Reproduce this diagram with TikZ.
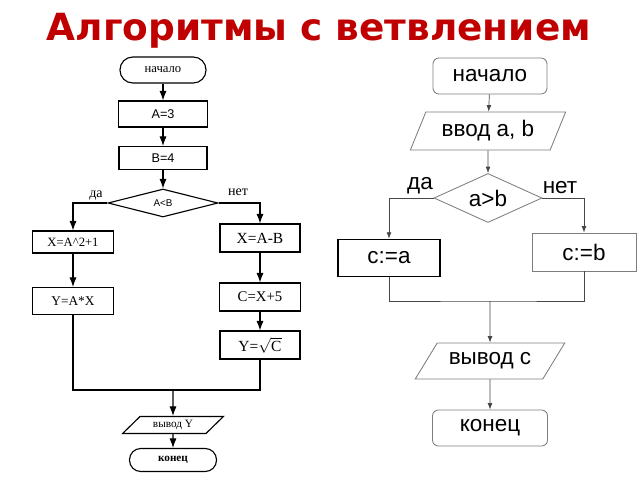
\documentclass[tikz,border=0pt]{standalone}
\usepackage{fontspec}
\setmainfont{Liberation Sans}
\newfontfamily\scanfont{Liberation Serif}
\newfontfamily\headfont{DejaVu Sans}
\usetikzlibrary{shapes.geometric,arrows.meta}
\definecolor{titlered}{RGB}{192,0,0}
\definecolor{boxgray}{RGB}{125,125,125}
\definecolor{wiregray}{RGB}{70,70,70}
\tikzset{
	lbox/.style={draw=black, line width=0.8pt, inner sep=0pt, font=\scanfont\fontsize{10}{12}\selectfont},
	lterm/.style={lbox, rounded corners=3.2mm},
	lwire/.style={line width=0.8pt, -{Latex[length=2.4mm,width=1.8mm]}},
	rbox/.style={draw=boxgray, line width=0.6pt, inner sep=0pt, rounded corners=0.6mm, font=\fontsize{16}{18}\selectfont},
	rwire/.style={draw=wiregray, line width=0.5pt, -{Latex[length=1.6mm,width=1.2mm]}},
}

\begin{document}
\begin{tikzpicture}[x=0.025cm, y=-0.025cm]
			%%%%% START %%%%%
			\useasboundingbox (0, 0) rectangle (640, 480);
			
			\node[text=titlered, anchor=base, font=\headfont\bfseries\fontsize{26.6}{30}\selectfont] (title) at (319, 40) {Алгоритмы с ветвлением};
			
			%%%%% LEFT %%%%%
			\node[lterm, minimum width=2.15cm, minimum height=0.65cm, font=\scanfont\fontsize{9}{10}\selectfont] (lstart) at (163, 70) {начало};
			\node[lbox, minimum width=2.225cm, minimum height=0.65cm, font=\fontsize{9}{10}\selectfont] (la) at (163, 114) {A=3};
			\node[lbox, minimum width=2.2cm, minimum height=0.575cm, font=\fontsize{9}{10}\selectfont] (lb) at (163, 158) {B=4};
			\node[lbox, shape=diamond, aspect=3.9, minimum width=2.75cm, minimum height=0.7cm, font=\fontsize{7}{8}\selectfont] (lcond) at (163, 203) {A<B};
			\node[font=\scanfont\fontsize{10}{12}\selectfont] (lyes) at (96, 196) {да};
			\node[font=\scanfont\fontsize{10}{12}\selectfont] (lno) at (238, 192) {нет};
			
			\node[lbox, minimum width=2.025cm, minimum height=0.55cm, font=\scanfont\fontsize{9}{10}\selectfont] (lxa) at (73, 242) {X=A\textasciicircum 2+1};
			\node[lbox, minimum width=2.025cm, minimum height=0.675cm, font=\scanfont\fontsize{9.5}{10}\selectfont] (lya) at (73, 301) {Y=A*X};
			
			\node[lbox, minimum width=2.0cm, minimum height=0.7cm, font=\scanfont\fontsize{11}{12}\selectfont] (lxb) at (260, 238) {X=A-B};
			\node[lbox, minimum width=2.025cm, minimum height=0.7cm, font=\scanfont\fontsize{10.5}{12}\selectfont] (lc) at (260, 297) {C=X+5};
			\node[lbox, minimum width=2.0cm, minimum height=0.7cm, font=\scanfont\fontsize{11}{12}\selectfont] (lyb) at (260, 345) {Y=\(\sqrt{\mbox{C}}\)};
			
			\coordinate (ljoin) at (173, 390);
			\node[lbox, shape=trapezium, trapezium left angle=42, trapezium right angle=138, trapezium stretches=true, minimum width=2.525cm, minimum height=0.425cm, font=\scanfont\fontsize{8}{9}\selectfont] (lout) at (173, 425) {вывод Y};
			\node[lterm, minimum width=2.175cm, minimum height=0.575cm, rounded corners=2.8mm, font=\scanfont\bfseries\fontsize{8}{9}\selectfont] (lend) at (173, 460) {конец};
			
			\draw[lwire] (lstart) -- (la);
			\draw[lwire] (la) -- (lb);
			\draw[lwire] (lb) -- (lcond);
			\draw[lwire] (lcond.west) -| (lxa.north);
			\draw[lwire] (lcond.east) -| (lxb.north);
			\draw[lwire] (lxa) -- (lya);
			\draw[lwire] (lxb) -- (lc);
			\draw[lwire] (lc) -- (lyb);
			\draw[line width=0.8pt] (lya.south) |- (ljoin) -| (lyb.south);
			\draw[lwire] (ljoin) -- (lout);
			\draw[lwire] (lout) -- (lend);
			
			%%%%% RIGHT %%%%%
			\node[rbox, minimum width=2.85cm, minimum height=0.9cm, rounded corners=1.5mm] (rstart) at (490, 76) {начало};
			\node[rbox, shape=trapezium, trapezium left angle=61, trapezium right angle=119, trapezium stretches=true, rounded corners=0pt, minimum width=3.9cm, minimum height=0.95cm] (rin) at (488, 131) {ввод a, b};
			\node[rbox, shape=diamond, aspect=2.2, rounded corners=0pt, minimum width=2.7cm, minimum height=1.225cm] (rcond) at (488, 198) {a>b};
			\node[font=\fontsize{16}{18}\selectfont] (ryes) at (420, 186) {да};
			\node[font=\fontsize{16}{18}\selectfont] (rno) at (560, 188) {нет};
			
			\node[rbox, draw=black, line width=1.1pt, rounded corners=0pt, minimum width=2.55cm, minimum height=0.925cm] (ra) at (389, 258) {c:=a};
			\node[rbox, rounded corners=0pt, minimum width=2.6cm, minimum height=0.95cm] (rb) at (584, 252) {c:=b};
			
			\coordinate (rjoin) at (490, 301);
			\node[rbox, shape=trapezium, trapezium left angle=44, trapezium right angle=136, trapezium stretches=true, rounded corners=0pt, minimum width=3.75cm, minimum height=0.9cm] (rout) at (490, 361) {вывод с};
			\node[rbox, minimum width=2.875cm, minimum height=0.9cm, rounded corners=1.5mm] (rend) at (490, 428) {конец};
			
			\draw[rwire] (rstart) -- (rin);
			\draw[rwire] (rin) -- (rcond);
			\draw[rwire] (rcond.west) -| (ra.north);
			\draw[rwire] (rcond.east) -| (rb.north);
			\draw[draw=wiregray, line width=0.5pt] (ra.south) |- (rjoin) -| (rb.south);
			\draw[rwire] (rjoin) -- (rout);
			\draw[rwire] (rout) -- (rend);
			
			%%%%% END %%%%%
\end{tikzpicture}
\end{document}
